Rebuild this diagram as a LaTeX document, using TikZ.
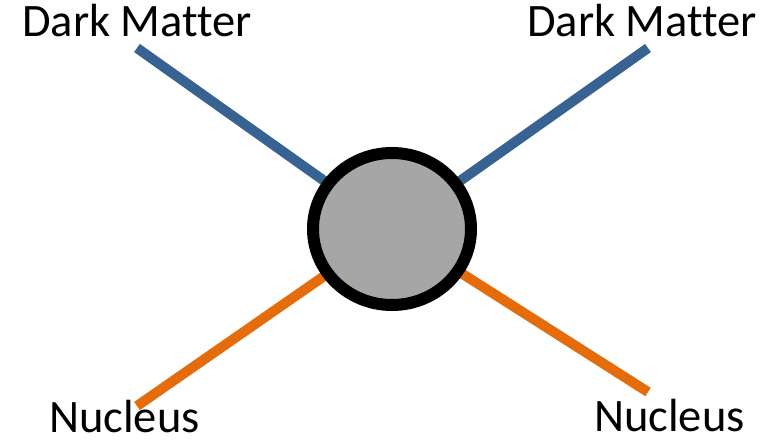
\documentclass[tikz,border=0pt]{standalone}
\usepackage{fontspec}
\setmainfont[Ligatures={NoCommon}]{Carlito}
\usetikzlibrary{shapes.geometric}
\definecolor{dmblue}{RGB}{56,98,146}
\definecolor{nuorange}{RGB}{228,108,10}
\definecolor{blobgray}{RGB}{166,166,166}
\begin{document}
\begin{tikzpicture}[x=1pt,y=1pt,
  leg/.style={line width=10pt},
  lbl/.style={inner sep=0pt,anchor=base west,font=\fontsize{46.5}{50}\selectfont},
  blob/.style={ellipse,draw=black,line width=12pt,fill=blobgray,minimum width=158pt,minimum height=152pt,inner sep=0pt}]
\useasboundingbox (0,0) rectangle (774,442);
\coordinate (o) at (392,213);
\coordinate (dm1) at (137,394);
\coordinate (dm2) at (648,394);
\coordinate (nu1) at (137,36);
\coordinate (nu2) at (648,50);
\draw[leg,dmblue] (dm1) -- (o);
\draw[leg,dmblue] (dm2) -- (o);
\draw[leg,nuorange] (nu1) -- (o);
\draw[leg,nuorange] (nu2) -- (o);
\node[blob] (c) at (o) {};
\node[lbl] (dmL) at (22,405) {Dark Matter};
\node[lbl] (dmR) at (527,405) {Dark Matter};
\node[lbl] (nuL) at (49,10) {Nucleus};
\node[lbl] (nuR) at (594,11) {Nucleus};
\end{tikzpicture}
\end{document}
